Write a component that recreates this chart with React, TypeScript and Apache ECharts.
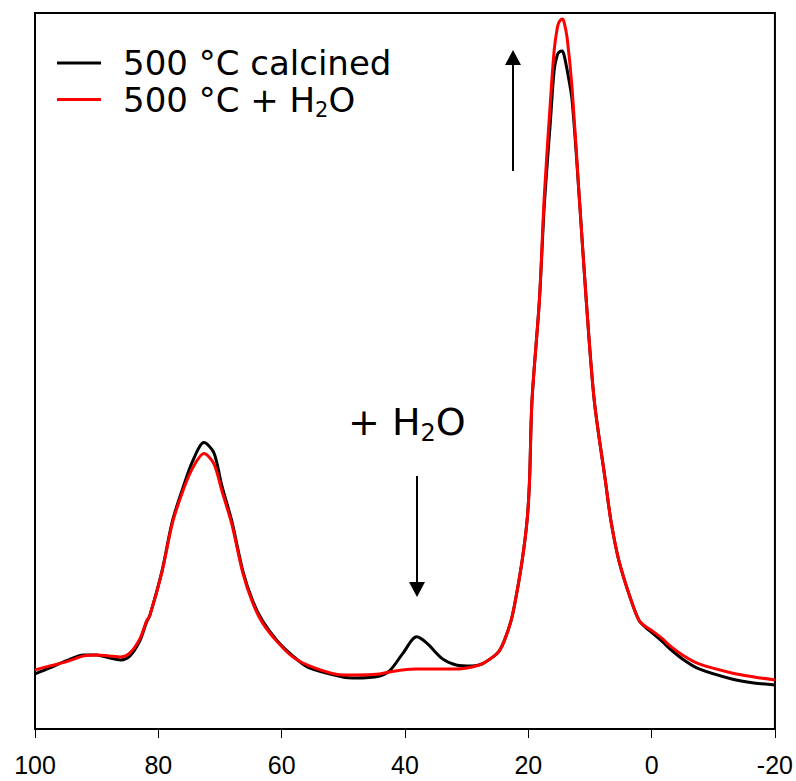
import React, { useEffect, useRef } from "react";
import * as echarts from "echarts";

// Chemical shift (ppm)
const shifts = [100, 97.6, 95, 92.1, 90, 88, 86.1, 84.6, 83, 81.9, 81.4, 79.4, 77.7, 76, 74.4, 72.6, 71, 69.7, 68.1, 66.3, 64.7, 63.1, 60.7, 58.2, 55.5, 50.1, 47.9, 44.1, 42.5, 40.4, 38.1, 36.5, 33.9, 31.7, 29.1, 27.5, 25.5, 24.7, 23.9, 22.8, 22.1, 21, 20.2, 19.8, 19.4, 18.2, 17.4, 16.4, 15.8, 15.3, 15, 14.5, 14.2, 13.7, 12.9, 11.7, 10.6, 9.3, 7.5, 6.6, 5.3, 3.3, 2, 0.9, -0.1, -1.8, -2.8, -5, -7.7, -13, -16.6, -20];

// Intensity (arbitrary units)
const calcined = [55, 61, 68, 74, 74, 71, 69, 73, 88, 107, 113, 158, 208, 241, 268, 286, 276, 243, 208, 158, 128, 108, 88, 73, 61, 52, 51, 53, 58, 75, 92, 86, 70, 64, 63, 65, 73, 78, 88, 108, 128, 168, 208, 248, 328, 428, 523, 608, 658, 673, 676, 677, 673, 658, 628, 528, 428, 328, 248, 208, 168, 128, 108, 101, 96, 87, 81, 70, 60, 50, 46, 44];
const hydrated = [59, 63, 67, 73, 74, 73, 72, 76, 90, 108, 113, 157, 206, 238, 261, 275, 265, 238, 205, 156, 126, 106, 87, 72, 63, 54, 54, 55, 57, 59, 60, 60, 60, 60, 62, 65, 73, 78, 88, 108, 128, 168, 208, 248, 328, 428, 533, 628, 678, 700, 706, 709, 706, 690, 640, 528, 428, 328, 248, 208, 168, 128, 108, 102, 98, 90, 84, 74, 65, 56, 52, 49];

const seriesNames = ["500 °C calcined", "500 °C + H2O"];
const xTicks = { min: -20, max: 100, interval: 20 };

const FONT = "DejaVu Sans";

export default function App() {
  const ref = useRef<HTMLDivElement>(null);
  useEffect(() => {
    if (!ref.current) return;
    const chart = echarts.init(ref.current, null, { renderer: "svg" });
    const pair = (ys: number[]) => shifts.map((x, i) => [x, ys[i]]);
    chart.setOption({
      animation: false,
      backgroundColor: "#fff",
      grid: {
        left: 35,
        right: 20,
        top: 13,
        bottom: 52,
        show: true,
        borderColor: "#000",
        borderWidth: 2,
      },
      legend: {
        orient: "vertical",
        left: 52,
        top: 40,
        itemGap: -2,
        itemWidth: 44,
        itemHeight: 3,
        icon: "rect",
        data: seriesNames,
        formatter: (name: string) =>
          name.endsWith("H2O") ? name.replace("H2O", "H{sub|2}O") : name,
        textStyle: {
          fontFamily: FONT,
          fontSize: 34,
          color: "#000",
          lineHeight: 36,
          padding: [0, 0, 0, 17],
          rich: {
            sub: {
              fontFamily: FONT,
              fontSize: 21,
              color: "#000",
              lineHeight: 36,
              padding: [20, 0, 0, 0],
            },
          },
        },
      },
      xAxis: {
        type: "value",
        inverse: true,
        min: xTicks.min,
        max: xTicks.max,
        interval: xTicks.interval,
        splitLine: { show: false },
        axisLine: { onZero: false, lineStyle: { color: "#000", width: 2 } },
        axisTick: { inside: false, length: 9, lineStyle: { color: "#000", width: 1 } },
        axisLabel: {
          margin: 23,
          fontFamily: "Liberation Sans",
          fontSize: 25,
          color: "#000",
        },
      },
      yAxis: {
        type: "value",
        min: 0,
        max: 715,
        axisLabel: { show: false },
        axisTick: { show: false },
        splitLine: { show: false },
        axisLine: { show: true, onZero: false, lineStyle: { color: "#000", width: 2 } },
      },
      series: [
        {
          name: seriesNames[0],
          type: "line",
          data: pair(calcined),
          showSymbol: false,
          smooth: 0.3,
          color: "#000",
          lineStyle: { color: "#000", width: 3 },
        },
        {
          name: seriesNames[1],
          type: "line",
          data: pair(hydrated),
          showSymbol: false,
          smooth: 0.3,
          color: "#ff0000",
          lineStyle: { color: "#ff0000", width: 3 },
        },
      ],
      graphic: [
        {
          type: "text",
          x: 348,
          y: 422,
          style: {
            text: "+ H{sub|2}O",
            fontFamily: FONT,
            fontSize: 38,
            fill: "#000",
            verticalAlign: "middle",
            rich: {
              sub: {
                fontFamily: FONT,
                fontSize: 24,
                fill: "#000",
                padding: [22, 0, 0, 0],
              },
            },
          },
        },
        {
          type: "line",
          shape: { x1: 417, y1: 476, x2: 417, y2: 585 },
          style: { stroke: "#000", lineWidth: 2 },
        },
        {
          type: "polygon",
          shape: { points: [[409, 582], [425, 582], [417, 597]] },
          style: { fill: "#000" },
        },
        {
          type: "line",
          shape: { x1: 513, y1: 171, x2: 513, y2: 62 },
          style: { stroke: "#000", lineWidth: 2 },
        },
        {
          type: "polygon",
          shape: { points: [[505, 65], [521, 65], [513, 50]] },
          style: { fill: "#000" },
        },
      ],
    });
    return () => chart.dispose();
  }, []);
  return (
    <div
      ref={ref}
      style={{ position: "fixed", left: 0, top: 0, width: 796, height: 781 }}
    />
  );
}
